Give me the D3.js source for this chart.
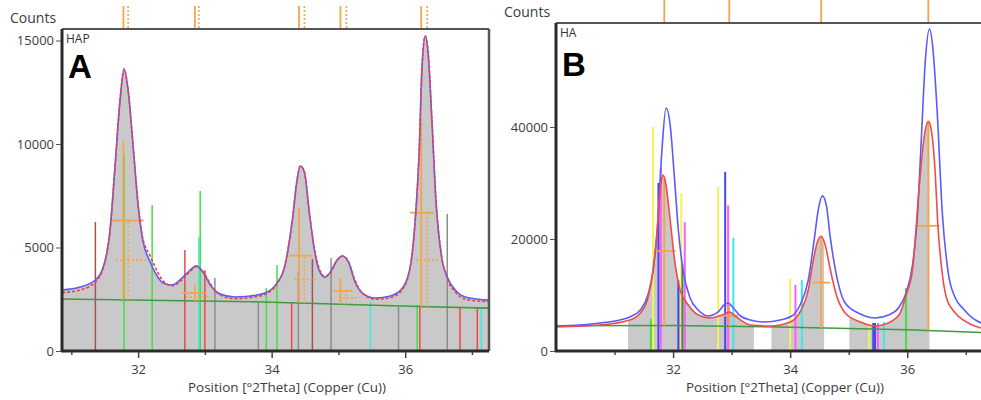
<!DOCTYPE html>
<html><head><meta charset="utf-8">
<script src="https://cdn.jsdelivr.net/npm/d3@7"></script>
<style>
html,body{margin:0;padding:0;background:#fff;}
svg{display:block;}
</style></head><body>
<svg id="chart" width="981" height="400"></svg>
<script>
// ===== Panel A : HAP =====
const hapTheta = [30.86,31.13,31.36,31.50,31.58,31.65,31.73,31.79,31.85,31.93,32.00,32.07,32.18,32.25,32.37,32.51,32.66,32.78,32.87,32.97,33.08,33.23,33.45,33.68,33.90,34.07,34.20,34.31,34.38,34.43,34.49,34.56,34.64,34.71,34.80,34.88,34.98,35.06,35.15,35.25,35.36,35.55,35.78,35.96,36.08,36.15,36.21,36.25,36.30,36.34,36.40,36.46,36.54,36.63,36.75,36.90,37.24];
const hapFit  = [2950,3090,3430,4300,5850,8740,12130,13620,12600,9710,7050,5360,4300,3820,3290,3190,3530,3910,4110,3820,3190,2750,2610,2660,2800,3240,4150,6330,8260,8940,8650,6810,4880,3910,3570,3820,4400,4590,4300,3330,2800,2560,2660,3040,4150,6330,9710,13580,15220,14540,11160,7300,4640,3570,2950,2610,2460];
const hapObs  = [2820,2950,3330,4250,5850,8740,12130,13620,12600,9710,7050,5450,4600,4100,3400,3150,3450,3850,4080,3850,3250,2700,2530,2580,2740,3200,4150,6330,8260,8940,8650,6810,4950,4000,3600,3800,4380,4590,4320,3400,2780,2500,2580,2980,4150,6330,9710,13580,15220,14540,11160,7300,4700,3500,2850,2500,2380];
const hapBgTheta  = [30.86,33.70,36.20,37.24];
const hapBgCounts = [2510,2380,2150,2070];
const hapTicksY = [0,5000,10000,15000];
// fitted peaks: K-alpha1 position, stick top, half-height bar limits; K-alpha2 position
const hapPeakPos   = [31.78,32.85,34.41,35.03,36.24];
const hapPeakTop   = [10140,3190,6900,3530,11220];
const hapBarLo     = [31.60,32.66,34.26,34.92,36.07];
const hapBarHi     = [32.08,33.03,34.61,35.21,36.43];
const hapPeakPos2  = [31.85,32.91,34.49,35.12,36.33];
// reference pattern lines
const hapStickPos = [31.36,31.79,32.21,32.70,32.91,32.93,33.00,33.15,33.80,33.92,34.08,34.30,34.40,34.61,34.89,35.48,35.90,36.18,36.22,36.63,36.82,37.08,37.14];
const hapStickTop = [6230,9470,7050,4880,5500,7730,3900,3530,2370,3040,4150,2320,3820,4440,4490,2400,2130,2220,2220,6620,2080,2080,2080];
const hapStickCol = ["darkred","green","green","red","cyan","green","red","gray","gray","green","green","red","gray","darkred","gray","cyan","gray","green","red","gray","red","red","cyan"];

// ===== Panel B : HA =====
const haTheta = [30.00,30.41,30.75,31.09,31.26,31.44,31.57,31.66,31.74,31.81,31.88,31.95,32.02,32.09,32.17,32.29,32.43,32.60,32.77,32.87,32.94,33.03,33.15,33.32,33.57,33.83,34.03,34.17,34.31,34.41,34.48,34.55,34.62,34.68,34.79,34.94,35.20,35.45,35.68,35.85,35.98,36.09,36.17,36.24,36.31,36.38,36.44,36.51,36.60,36.70,36.82,36.96,37.10,37.26];
const haBlue  = [4460,4640,5000,5540,6070,7320,10000,14470,23400,35900,43400,40400,31400,21600,14470,9470,7320,6250,6970,8220,8570,7680,6250,5540,5180,5540,6250,8220,12680,19800,25200,27700,25900,20700,13600,8570,6610,5900,6430,7680,10360,15360,23500,37700,52000,57500,53800,43000,24500,14000,9500,7500,6000,5000];
const haRedTheta = [30.00,30.75,31.26,31.44,31.57,31.66,31.73,31.78,31.83,31.88,31.95,32.03,32.12,32.26,32.43,32.63,32.84,32.96,33.08,33.32,33.66,34.00,34.17,34.31,34.39,34.46,34.53,34.60,34.68,34.79,34.94,35.20,35.45,35.71,35.88,35.98,36.09,36.21,36.28,36.36,36.41,36.48,36.52,36.58,36.67,36.82,36.96,37.10,37.26];
const haRed = [4290,4640,5540,6790,9470,14470,21600,28750,31400,29600,23400,15900,10900,8220,6430,5900,6430,6970,6070,4640,4460,5180,6970,10900,15900,19300,20500,18900,14800,10000,6790,5180,4460,5180,6790,10000,14470,30000,37500,41000,39500,31400,23000,15500,9500,6800,5500,4700,4100];
const haBgTheta  = [30.00,32.00,34.00,36.00,37.26];
const haBgCounts = [4500,4550,4250,3800,3300];
const haTicksY = [0,20000,40000];
const haPeakPos = [31.85,32.96,34.53,36.36];
const haPeakTop = [31100,8200,20280,41040];
const haBarLo   = [31.68,32.85,34.38,36.17];
const haBarHi   = [32.04,33.11,34.68,36.55];
// grey-shaded profile ranges
const haShadeFrom = [31.23,33.68,35.01];
const haShadeTo   = [33.38,34.58,36.38];
const haStickPos = [31.62,31.66,31.75,31.79,32.09,32.14,32.16,32.20,32.77,32.89,32.94,33.03,34.00,34.09,34.20,35.35,35.42,35.45,35.50,35.60,35.98];
const haStickTop = [5700,40000,30000,32800,12700,28200,15500,23000,29300,32000,26000,20200,12860,11800,12680,4800,5000,5000,5000,5200,11250];
const haStickCol = ["green","yellow","blue","magenta","blue","yellow","dkgreen","magenta","yellow","blue","magenta","cyan","yellow","magenta","cyan","yellow","blue","blue","magenta","cyan","green"];

const xTicksMajor = [32,34,36];
const xTicksMinor = [31,33,35,37];

const palette = {
  darkred:"#a8524c", red:"#f04848", green:"#3fe03f", dkgreen:"#3a8a3a", cyan:"#3fe8e8",
  gray:"#8c8c8c", yellow:"#f2f25a", magenta:"#ff5cff", blue:"#4646f0"
};
const ORANGE = "#f5a447";
const FONT = '"Open Sans","Noto Sans",sans-serif';
const TXT = "#3c3c3c";

const svg = d3.select("#chart");

function interpBg(th, bgT, bgC){
  return d3.scaleLinear().domain(bgT).range(bgC)(th);
}

function drawPanel(o){
  const g = svg.append("g");
  const x = d3.scaleLinear().domain(o.xDomain).range([o.left, o.right]);
  const y = d3.scaleLinear().domain([0, o.yRef]).range([o.bottom, o.yRefPx]);
  const bg = t => interpBg(t, o.bgT, o.bgC);

  const clipId = "clip-" + o.id;
  g.append("clipPath").attr("id", clipId).append("rect")
    .attr("x", o.left).attr("y", o.top).attr("width", o.right - o.left).attr("height", o.bottom - o.top);
  const plot = g.append("g").attr("clip-path", `url(#${clipId})`);

  // shaded profile
  const area = d3.area().x(d => x(d[0])).y0(y(0)).y1(d => y(d[1])).curve(d3.curveMonotoneX);
  const shadeData = d3.zip(o.shadeT, o.shadeC);
  if (o.shadeFrom) {
    o.shadeFrom.forEach((f, i) => {
      const cid = clipId + "-s" + i;
      g.append("clipPath").attr("id", cid).append("rect")
        .attr("x", x(f)).attr("y", o.top).attr("width", x(o.shadeTo[i]) - x(f)).attr("height", o.bottom - o.top);
      plot.append("path").datum(shadeData).attr("d", area).attr("fill", "#c9c9c9")
        .attr("clip-path", `url(#${cid})`);
    });
  } else {
    plot.append("path").datum(shadeData).attr("d", area).attr("fill", "#c9c9c9");
  }

  // reference pattern sticks
  plot.selectAll("line.stick").data(d3.zip(o.stickPos, o.stickTop, o.stickCol)).join("line")
    .attr("x1", d => x(d[0])).attr("x2", d => x(d[0]))
    .attr("y1", y(0)).attr("y2", d => y(d[1]))
    .attr("stroke", d => palette[d[2]]).attr("stroke-width", o.stickW);

  // background
  const line = d3.line().x(d => x(d[0])).y(d => y(d[1]));
  plot.append("path").datum(d3.zip(o.bgT, o.bgC)).attr("d", line)
    .attr("fill", "none").attr("stroke", "#3f9b3f").attr("stroke-width", 1.6);

  // fitted peak markers
  o.peakPos.forEach((p, i) => {
    const b = bg(p), top = o.peakTop[i], mid = b + (top - b) / 2;
    plot.append("line").attr("x1", x(p)).attr("x2", x(p)).attr("y1", y(b)).attr("y2", y(top))
      .attr("stroke", ORANGE).attr("stroke-width", 1.8);
    plot.append("line").attr("x1", x(o.barLo[i])).attr("x2", x(o.barHi[i])).attr("y1", y(mid)).attr("y2", y(mid))
      .attr("stroke", ORANGE).attr("stroke-width", 1.8);
    if (o.peakPos2) {
      const p2 = o.peakPos2[i], b2 = bg(p2), top2 = b2 + (top - b) / 2, mid2 = b2 + (top - b) / 4, d = p2 - p;
      plot.append("line").attr("x1", x(p2)).attr("x2", x(p2)).attr("y1", y(b2)).attr("y2", y(top2))
        .attr("stroke", ORANGE).attr("stroke-width", 1.6).attr("stroke-dasharray", "2,2");
      plot.append("line").attr("x1", x(o.barLo[i] + d)).attr("x2", x(o.barHi[i] + d)).attr("y1", y(mid2)).attr("y2", y(mid2))
        .attr("stroke", ORANGE).attr("stroke-width", 1.6).attr("stroke-dasharray", "2,2");
    }
  });

  // profiles
  const curve = d3.line().x(d => x(d[0])).y(d => y(d[1])).curve(d3.curveMonotoneX);
  o.curves.forEach(c => {
    plot.append("path").datum(d3.zip(c.t, c.v)).attr("d", curve)
      .attr("fill", "none").attr("stroke", c.color).attr("stroke-width", 1.6)
      .attr("stroke-dasharray", c.dash || null).attr("stroke-opacity", c.op || 1);
  });

  // peak position marks above the frame
  o.peakPos.forEach((p, i) => {
    g.append("line").attr("x1", x(p)).attr("x2", x(p)).attr("y1", o.markTop).attr("y2", o.top)
      .attr("stroke", ORANGE).attr("stroke-width", 1.8);
    if (o.peakPos2) {
      g.append("line").attr("x1", x(o.peakPos2[i])).attr("x2", x(o.peakPos2[i])).attr("y1", o.markTop).attr("y2", o.top)
        .attr("stroke", ORANGE).attr("stroke-width", 1.6).attr("stroke-dasharray", "2,2");
    }
  });

  // frame
  g.append("line").attr("x1", o.left).attr("x2", o.frameRight).attr("y1", o.top).attr("y2", o.top)
    .attr("stroke", "#555").attr("stroke-width", 2);
  if (o.frameRight < 981) {
    g.append("line").attr("x1", o.frameRight).attr("x2", o.frameRight).attr("y1", o.top).attr("y2", o.bottom)
      .attr("stroke", "#555").attr("stroke-width", 2.5);
  }
  g.append("line").attr("x1", o.left).attr("x2", o.left).attr("y1", o.top).attr("y2", o.bottom + 1)
    .attr("stroke", "#2a2a2a").attr("stroke-width", 3);
  g.append("line").attr("x1", o.left - 1).attr("x2", o.frameRight).attr("y1", o.bottom).attr("y2", o.bottom)
    .attr("stroke", "#2a2a2a").attr("stroke-width", 3);

  // y axis
  const yAxis = g.append("g").attr("transform", `translate(${o.left - 1},0)`)
    .call(d3.axisLeft(y).tickValues(o.yTicks).tickFormat(d3.format("d")).tickSize(5).tickPadding(2));
  yAxis.select(".domain").remove();
  yAxis.selectAll("line").attr("stroke", "#555");
  yAxis.selectAll("text").attr("fill", TXT).style("font-family", FONT).style("font-size", "13px");

  // x axis
  const xAxis = g.append("g").attr("transform", `translate(0,${o.bottom + 1})`)
    .call(d3.axisBottom(x).tickValues(xTicksMajor).tickFormat(d3.format("d")).tickSize(6).tickPadding(7));
  xAxis.select(".domain").remove();
  xAxis.selectAll("line").attr("stroke", "#444").attr("stroke-width", 1.5);
  xAxis.selectAll("text").attr("fill", TXT).style("font-family", FONT).style("font-size", "13px");
  const xMinor = g.append("g").attr("transform", `translate(0,${o.bottom + 1})`)
    .call(d3.axisBottom(x).tickValues(xTicksMinor).tickFormat("").tickSize(3));
  xMinor.select(".domain").remove();
  xMinor.selectAll("line").attr("stroke", "#444").attr("stroke-width", 1.5);

  // labels
  g.append("text").attr("x", o.titleX).attr("y", 392).attr("text-anchor", "middle")
    .attr("fill", TXT).style("font-family", FONT).style("font-size", "13.5px")
    .text("Position [°2Theta] (Copper (Cu))");
  g.append("text").attr("x", o.countsX).attr("y", o.countsY)
    .attr("fill", TXT).style("font-family", FONT).style("font-size", "14px").text("Counts");
  g.append("text").attr("x", o.left + 4).attr("y", o.top + 14)
    .attr("fill", "#333").style("font-family", FONT).style("font-size", "12px").text(o.name);
  g.append("text").attr("x", o.left + 6).attr("y", o.letterY)
    .attr("fill", "#000").style("font-family", '"Liberation Sans",Arial,sans-serif')
    .style("font-size", "33px").style("font-weight", "bold").text(o.letter);
}

drawPanel({
  id: "a", name: "HAP", letter: "A", letterY: 78,
  left: 62, right: 488, frameRight: 489, top: 29, bottom: 351, markTop: 6,
  xDomain: [30.86, 37.24], yRef: 15000, yRefPx: 40.5, yTicks: hapTicksY,
  bgT: hapBgTheta, bgC: hapBgCounts,
  shadeT: hapTheta, shadeC: hapFit,
  stickPos: hapStickPos, stickTop: hapStickTop, stickCol: hapStickCol, stickW: 1.5,
  peakPos: hapPeakPos, peakTop: hapPeakTop, barLo: hapBarLo, barHi: hapBarHi, peakPos2: hapPeakPos2,
  curves: [
    {t: hapTheta, v: hapFit, color: "#5a5aff"},
    {t: hapTheta, v: hapObs, color: "#f04040", dash: "3,2"}
  ],
  titleX: 287, countsX: 10, countsY: 23
});

drawPanel({
  id: "b", name: "HA", letter: "B", letterY: 76,
  left: 556, right: 981, frameRight: 982, top: 23, bottom: 351, markTop: 0,
  xDomain: [30.0, 37.26], yRef: 40000, yRefPx: 127, yTicks: haTicksY,
  bgT: haBgTheta, bgC: haBgCounts,
  shadeT: haRedTheta, shadeC: haRed, shadeFrom: haShadeFrom, shadeTo: haShadeTo,
  stickPos: haStickPos, stickTop: haStickTop, stickCol: haStickCol, stickW: 2,
  peakPos: haPeakPos, peakTop: haPeakTop, barLo: haBarLo, barHi: haBarHi,
  curves: [
    {t: haTheta, v: haBlue, color: "#5a5aff"},
    {t: haRedTheta, v: haRed, color: "#f24a4a"}
  ],
  titleX: 785, countsX: 504, countsY: 17
});
</script>
</body></html>
